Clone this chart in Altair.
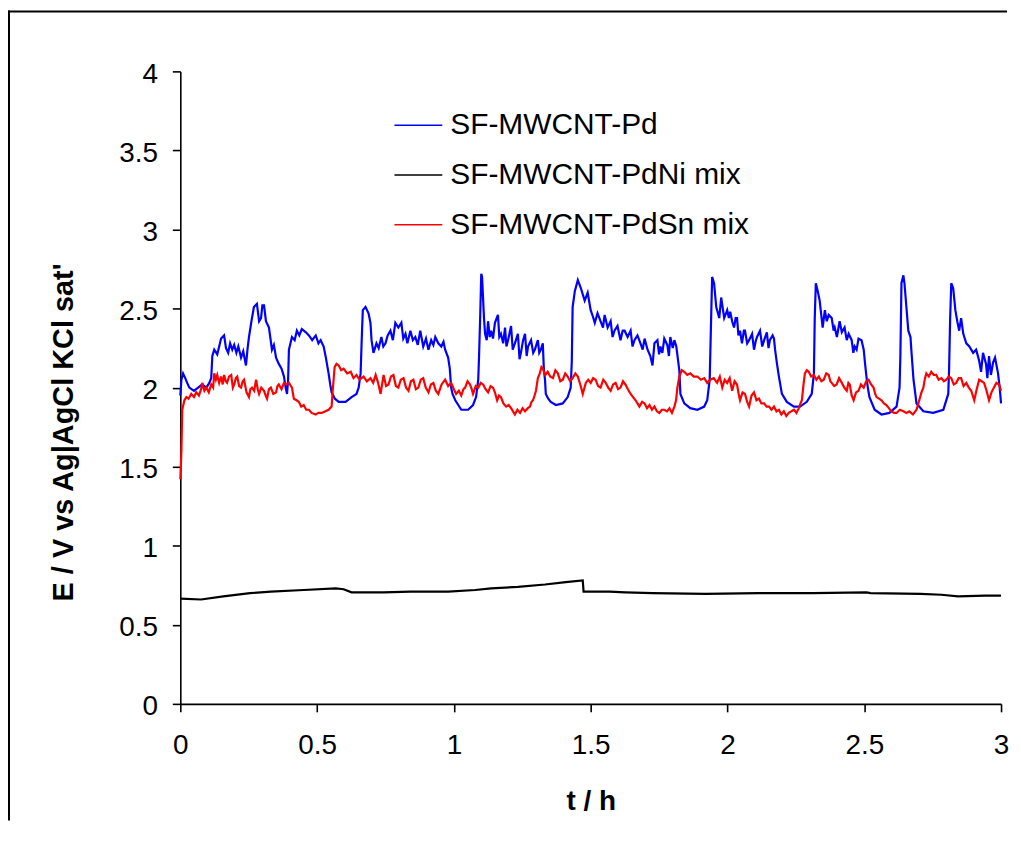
import altair as alt
import pandas as pd

SERIES = ["SF-MWCNT-Pd", "SF-MWCNT-PdNi mix", "SF-MWCNT-PdSn mix"]
COLORS = ["#0000FF", "#000000", "#FF0000"]

X_TICKS = [0, 0.5, 1, 1.5, 2, 2.5, 3]
Y_TICKS = [0, 0.5, 1, 1.5, 2, 2.5, 3, 3.5, 4]

# (t / h, E / V)
PD_POINTS = [
    (0.000, 1.95), (0.004, 2.05), (0.010, 2.09), (0.018, 2.06), (0.025, 2.03), (0.033, 2.00),
    (0.050, 1.98), (0.065, 2.00), (0.080, 2.02), (0.095, 2.00), (0.106, 2.03), (0.113, 2.06),
    (0.117, 2.20), (0.124, 2.24), (0.135, 2.21), (0.149, 2.31), (0.160, 2.33), (0.167, 2.25),
    (0.175, 2.22), (0.182, 2.28), (0.190, 2.24), (0.197, 2.27), (0.205, 2.22), (0.212, 2.26),
    (0.222, 2.19), (0.230, 2.23), (0.240, 2.14), (0.246, 2.25), (0.251, 2.32), (0.260, 2.42),
    (0.269, 2.51), (0.280, 2.53), (0.288, 2.42), (0.295, 2.44), (0.300, 2.52), (0.306, 2.52),
    (0.313, 2.42), (0.324, 2.38), (0.335, 2.24), (0.342, 2.27), (0.350, 2.19), (0.360, 2.15),
    (0.370, 2.12), (0.379, 2.07), (0.385, 2.00), (0.390, 1.96), (0.394, 2.05), (0.397, 2.24),
    (0.408, 2.32), (0.418, 2.30), (0.426, 2.36), (0.435, 2.33), (0.444, 2.37), (0.459, 2.35),
    (0.470, 2.33), (0.482, 2.30), (0.495, 2.33), (0.505, 2.28), (0.513, 2.30), (0.524, 2.26),
    (0.532, 2.19), (0.542, 2.09), (0.548, 2.02), (0.553, 1.97), (0.565, 1.93), (0.579, 1.91),
    (0.604, 1.91), (0.626, 1.94), (0.644, 1.96), (0.652, 2.00), (0.659, 2.09), (0.663, 2.30),
    (0.667, 2.49), (0.677, 2.51), (0.688, 2.47), (0.695, 2.41), (0.699, 2.30), (0.706, 2.22),
    (0.717, 2.28), (0.725, 2.25), (0.735, 2.32), (0.742, 2.26), (0.750, 2.28), (0.758, 2.33),
    (0.768, 2.36), (0.777, 2.30), (0.786, 2.41), (0.797, 2.38), (0.808, 2.41), (0.815, 2.31),
    (0.823, 2.34), (0.830, 2.28), (0.841, 2.36), (0.850, 2.30), (0.859, 2.32), (0.868, 2.27),
    (0.877, 2.36), (0.888, 2.26), (0.898, 2.31), (0.907, 2.24), (0.917, 2.30), (0.925, 2.27),
    (0.932, 2.32), (0.943, 2.28), (0.954, 2.26), (0.962, 2.29), (0.968, 2.24), (0.979, 2.19),
    (0.985, 2.12), (0.990, 2.00), (0.995, 1.96), (1.005, 1.92), (1.027, 1.86), (1.052, 1.86),
    (1.070, 1.89), (1.081, 1.94), (1.089, 2.05), (1.092, 2.20), (1.096, 2.44), (1.100, 2.72),
    (1.103, 2.70), (1.110, 2.44), (1.114, 2.34), (1.120, 2.30), (1.125, 2.42), (1.131, 2.32),
    (1.136, 2.36), (1.143, 2.31), (1.150, 2.41), (1.161, 2.46), (1.166, 2.32), (1.172, 2.34),
    (1.180, 2.28), (1.187, 2.38), (1.192, 2.26), (1.198, 2.30), (1.209, 2.39), (1.215, 2.24),
    (1.223, 2.28), (1.234, 2.34), (1.240, 2.18), (1.245, 2.22), (1.253, 2.30), (1.260, 2.34),
    (1.266, 2.20), (1.271, 2.26), (1.282, 2.30), (1.290, 2.22), (1.296, 2.24), (1.307, 2.30),
    (1.312, 2.22), (1.318, 2.24), (1.325, 2.28), (1.329, 2.11), (1.333, 2.05), (1.336, 1.96),
    (1.345, 1.93), (1.354, 1.91), (1.373, 1.89), (1.398, 1.90), (1.416, 1.94), (1.427, 2.00),
    (1.431, 2.17), (1.434, 2.51), (1.442, 2.61), (1.453, 2.68), (1.464, 2.63), (1.478, 2.55),
    (1.489, 2.60), (1.500, 2.49), (1.508, 2.45), (1.515, 2.41), (1.525, 2.47), (1.536, 2.42),
    (1.545, 2.38), (1.551, 2.46), (1.562, 2.38), (1.573, 2.42), (1.580, 2.32), (1.587, 2.36),
    (1.598, 2.39), (1.609, 2.30), (1.617, 2.36), (1.624, 2.36), (1.635, 2.32), (1.646, 2.36),
    (1.653, 2.26), (1.660, 2.30), (1.671, 2.33), (1.682, 2.28), (1.690, 2.24), (1.697, 2.31),
    (1.708, 2.24), (1.718, 2.20), (1.726, 2.14), (1.733, 2.28), (1.744, 2.30), (1.750, 2.21),
    (1.755, 2.26), (1.762, 2.22), (1.769, 2.31), (1.780, 2.27), (1.786, 2.20), (1.791, 2.32),
    (1.800, 2.25), (1.806, 2.30), (1.813, 2.26), (1.824, 2.11), (1.828, 1.96), (1.842, 1.90),
    (1.864, 1.87), (1.890, 1.86), (1.915, 1.88), (1.926, 1.92), (1.935, 2.05), (1.941, 2.49),
    (1.944, 2.70), (1.951, 2.66), (1.959, 2.51), (1.970, 2.44), (1.977, 2.57), (1.988, 2.44),
    (1.999, 2.49), (2.005, 2.44), (2.010, 2.48), (2.017, 2.42), (2.024, 2.38), (2.030, 2.44),
    (2.035, 2.44), (2.040, 2.33), (2.046, 2.36), (2.053, 2.28), (2.060, 2.36), (2.064, 2.36),
    (2.072, 2.28), (2.079, 2.30), (2.090, 2.34), (2.097, 2.24), (2.104, 2.30), (2.108, 2.32),
    (2.119, 2.36), (2.127, 2.26), (2.134, 2.30), (2.144, 2.35), (2.150, 2.25), (2.155, 2.30),
    (2.165, 2.33), (2.170, 2.31), (2.174, 2.24), (2.181, 2.15), (2.188, 2.07), (2.199, 1.96),
    (2.217, 1.91), (2.243, 1.88), (2.265, 1.88), (2.290, 1.91), (2.308, 1.96), (2.316, 2.09),
    (2.319, 2.44), (2.323, 2.66), (2.330, 2.61), (2.337, 2.55), (2.348, 2.38), (2.356, 2.49),
    (2.363, 2.42), (2.370, 2.46), (2.381, 2.44), (2.388, 2.36), (2.392, 2.38), (2.400, 2.32),
    (2.410, 2.42), (2.418, 2.35), (2.428, 2.38), (2.436, 2.30), (2.443, 2.34), (2.454, 2.30),
    (2.460, 2.22), (2.465, 2.26), (2.472, 2.24), (2.479, 2.31), (2.490, 2.30), (2.498, 2.24),
    (2.503, 2.15), (2.508, 2.07), (2.513, 2.00), (2.519, 1.94), (2.538, 1.86), (2.563, 1.83),
    (2.592, 1.84), (2.618, 1.88), (2.629, 2.00), (2.632, 2.20), (2.636, 2.66), (2.643, 2.71),
    (2.647, 2.66), (2.654, 2.51), (2.661, 2.36), (2.669, 2.32), (2.672, 2.24), (2.680, 2.05),
    (2.691, 1.90), (2.716, 1.85), (2.752, 1.84), (2.789, 1.86), (2.807, 1.96), (2.810, 2.11),
    (2.814, 2.44), (2.818, 2.66), (2.825, 2.63), (2.833, 2.49), (2.840, 2.42), (2.847, 2.36),
    (2.854, 2.44), (2.862, 2.34), (2.873, 2.28), (2.884, 2.26), (2.898, 2.22), (2.909, 2.24),
    (2.920, 2.17), (2.927, 2.10), (2.934, 2.22), (2.945, 2.15), (2.950, 2.06), (2.956, 2.20),
    (2.963, 2.08), (2.971, 2.16), (2.978, 2.19), (2.989, 2.09), (2.995, 2.00), (3.000, 1.90),
]

PDNI_POINTS = [
    (0.000, 0.666), (0.076, 0.66), (0.157, 0.68), (0.255, 0.70), (0.331, 0.71),
    (0.451, 0.72), (0.568, 0.73), (0.597, 0.725), (0.626, 0.705), (0.743, 0.705), (0.841, 0.71),
    (0.979, 0.71), (1.078, 0.72), (1.136, 0.73), (1.234, 0.74), (1.333, 0.755), (1.409, 0.77),
    (1.471, 0.78), (1.474, 0.71), (1.569, 0.71), (1.627, 0.705), (1.726, 0.70), (1.919, 0.695),
    (2.115, 0.70), (2.312, 0.70), (2.508, 0.705), (2.523, 0.70), (2.705, 0.695), (2.782, 0.69),
    (2.843, 0.68), (2.942, 0.685), (3.000, 0.685),
]

PDSN_POINTS = [
    (0.000, 1.42), (0.004, 1.60), (0.007, 1.86), (0.015, 1.92), (0.022, 1.94), (0.030, 1.93),
    (0.040, 1.96), (0.050, 1.94), (0.058, 1.97), (0.068, 1.95), (0.076, 1.99), (0.080, 2.03),
    (0.088, 1.98), (0.095, 2.00), (0.104, 1.97), (0.113, 2.02), (0.120, 2.00), (0.124, 2.09),
    (0.130, 2.05), (0.135, 2.08), (0.142, 2.03), (0.149, 2.07), (0.155, 2.02), (0.160, 2.08),
    (0.166, 2.04), (0.171, 2.03), (0.178, 2.07), (0.186, 2.08), (0.192, 2.00), (0.197, 2.02),
    (0.203, 2.06), (0.208, 2.07), (0.215, 2.01), (0.222, 2.00), (0.228, 2.04), (0.233, 2.05),
    (0.242, 1.97), (0.251, 1.94), (0.256, 1.99), (0.262, 2.00), (0.270, 1.98), (0.277, 2.05),
    (0.283, 1.99), (0.288, 1.96), (0.296, 2.00), (0.306, 1.98), (0.312, 1.95), (0.317, 1.93),
    (0.324, 1.99), (0.331, 2.00), (0.340, 1.96), (0.350, 1.97), (0.355, 2.01), (0.360, 2.02),
    (0.370, 1.99), (0.379, 2.03), (0.388, 2.02), (0.397, 2.03), (0.408, 2.00), (0.415, 1.93),
    (0.425, 1.92), (0.433, 1.91), (0.442, 1.88), (0.451, 1.89), (0.460, 1.86), (0.470, 1.86),
    (0.480, 1.84), (0.495, 1.83), (0.505, 1.84), (0.517, 1.84), (0.530, 1.85), (0.542, 1.86),
    (0.553, 1.88), (0.557, 1.98), (0.564, 2.13), (0.571, 2.15), (0.579, 2.14), (0.588, 2.11),
    (0.597, 2.12), (0.610, 2.09), (0.623, 2.10), (0.633, 2.06), (0.644, 2.08), (0.655, 2.05),
    (0.670, 2.07), (0.682, 2.04), (0.695, 2.06), (0.705, 2.03), (0.714, 2.08), (0.723, 2.03),
    (0.732, 1.96), (0.743, 2.08), (0.752, 2.01), (0.761, 2.02), (0.770, 2.07), (0.779, 2.08),
    (0.788, 2.01), (0.797, 2.00), (0.806, 2.05), (0.816, 2.06), (0.825, 2.00), (0.834, 1.98),
    (0.843, 2.04), (0.852, 2.05), (0.861, 1.99), (0.870, 2.00), (0.879, 2.05), (0.888, 2.06),
    (0.897, 2.00), (0.907, 1.97), (0.916, 2.02), (0.925, 2.03), (0.934, 1.98), (0.943, 1.96),
    (0.955, 2.02), (0.968, 2.05), (0.979, 2.01), (0.990, 2.03), (1.000, 1.99), (1.008, 1.96),
    (1.018, 1.98), (1.027, 1.95), (1.035, 1.99), (1.041, 2.00), (1.050, 2.04), (1.059, 2.02),
    (1.065, 1.99), (1.070, 1.96), (1.080, 2.01), (1.089, 2.00), (1.098, 2.03), (1.107, 2.02),
    (1.116, 1.99), (1.125, 1.97), (1.134, 2.01), (1.143, 2.00), (1.150, 1.97), (1.158, 1.92),
    (1.165, 1.95), (1.172, 1.94), (1.181, 1.90), (1.191, 1.88), (1.200, 1.89), (1.209, 1.87),
    (1.216, 1.85), (1.223, 1.83), (1.232, 1.86), (1.242, 1.84), (1.251, 1.87), (1.260, 1.85),
    (1.270, 1.87), (1.278, 1.88), (1.284, 1.91), (1.289, 1.92), (1.295, 1.95), (1.300, 1.98),
    (1.307, 2.06), (1.314, 2.09), (1.320, 2.13), (1.325, 2.12), (1.334, 2.08), (1.343, 2.10),
    (1.352, 2.07), (1.362, 2.06), (1.371, 2.11), (1.380, 2.09), (1.389, 2.04), (1.398, 2.05),
    (1.407, 2.09), (1.416, 2.07), (1.425, 2.04), (1.434, 2.06), (1.444, 2.09), (1.453, 2.07),
    (1.462, 2.02), (1.471, 1.96), (1.482, 2.03), (1.491, 2.05), (1.500, 2.03), (1.509, 2.06),
    (1.518, 2.05), (1.527, 2.01), (1.536, 2.00), (1.546, 2.05), (1.555, 2.03), (1.564, 2.00),
    (1.573, 1.98), (1.582, 2.02), (1.591, 2.03), (1.600, 1.99), (1.609, 2.00), (1.618, 2.04),
    (1.627, 2.02), (1.636, 1.99), (1.646, 1.96), (1.655, 1.94), (1.664, 1.92), (1.671, 1.90),
    (1.678, 1.88), (1.688, 1.91), (1.697, 1.90), (1.706, 1.87), (1.715, 1.89), (1.724, 1.86),
    (1.733, 1.88), (1.742, 1.85), (1.751, 1.84), (1.760, 1.86), (1.769, 1.86), (1.779, 1.85),
    (1.788, 1.87), (1.797, 1.84), (1.806, 1.88), (1.812, 1.92), (1.817, 2.00), (1.824, 2.07),
    (1.833, 2.11), (1.842, 2.10), (1.853, 2.08), (1.864, 2.09), (1.877, 2.07), (1.890, 2.07),
    (1.903, 2.05), (1.915, 2.06), (1.926, 2.03), (1.937, 2.05), (1.950, 2.06), (1.962, 2.03),
    (1.972, 2.07), (1.981, 2.00), (1.990, 2.05), (1.999, 2.03), (2.008, 2.06), (2.017, 1.98),
    (2.026, 2.04), (2.035, 2.02), (2.041, 1.96), (2.046, 1.92), (2.055, 1.97), (2.064, 1.96),
    (2.072, 1.91), (2.079, 1.88), (2.088, 1.95), (2.097, 1.97), (2.106, 1.92), (2.115, 1.93),
    (2.124, 1.90), (2.134, 1.90), (2.143, 1.88), (2.152, 1.88), (2.161, 1.86), (2.170, 1.88),
    (2.179, 1.85), (2.188, 1.86), (2.197, 1.83), (2.206, 1.85), (2.215, 1.82), (2.224, 1.84),
    (2.233, 1.85), (2.243, 1.86), (2.252, 1.84), (2.261, 1.87), (2.267, 1.90), (2.272, 1.92),
    (2.278, 2.02), (2.283, 2.09), (2.290, 2.11), (2.297, 2.10), (2.306, 2.07), (2.316, 2.08),
    (2.325, 2.05), (2.334, 2.07), (2.343, 2.04), (2.352, 2.05), (2.361, 2.09), (2.370, 2.08),
    (2.376, 2.04), (2.381, 2.03), (2.390, 2.01), (2.399, 2.02), (2.408, 2.06), (2.418, 2.03),
    (2.427, 2.00), (2.436, 1.98), (2.442, 2.03), (2.447, 2.02), (2.454, 1.95), (2.461, 1.92),
    (2.470, 1.97), (2.479, 1.98), (2.488, 2.02), (2.498, 2.00), (2.507, 2.04), (2.516, 2.05),
    (2.525, 2.02), (2.534, 2.00), (2.540, 1.96), (2.545, 1.94), (2.554, 1.93), (2.563, 1.92),
    (2.572, 1.90), (2.581, 1.89), (2.590, 1.87), (2.599, 1.85), (2.609, 1.84), (2.618, 1.84),
    (2.630, 1.86), (2.643, 1.85), (2.654, 1.84), (2.665, 1.85), (2.678, 1.83), (2.691, 1.86),
    (2.701, 1.92), (2.709, 1.97), (2.716, 2.00), (2.722, 2.06), (2.727, 2.09), (2.736, 2.07),
    (2.745, 2.10), (2.754, 2.08), (2.763, 2.08), (2.772, 2.05), (2.782, 2.06), (2.791, 2.04),
    (2.800, 2.05), (2.809, 2.07), (2.818, 2.06), (2.827, 2.02), (2.836, 2.03), (2.845, 2.06),
    (2.854, 2.06), (2.863, 2.01), (2.873, 2.03), (2.882, 2.00), (2.891, 1.98), (2.902, 1.92),
    (2.911, 1.99), (2.920, 2.05), (2.929, 2.04), (2.938, 2.03), (2.947, 1.98), (2.956, 1.92),
    (2.965, 1.97), (2.974, 2.00), (2.983, 2.03), (2.993, 2.02), (3.000, 1.98),
]

rows = []
for name, pts in zip(SERIES, [PD_POINTS, PDNI_POINTS, PDSN_POINTS]):
    for i, (t, e) in enumerate(pts):
        rows.append({"series": name, "t": t, "E": e, "idx": i})
df = pd.DataFrame(rows)

FONT = "Liberation Sans"

lines = alt.Chart(df).mark_line(strokeWidth=2.2).encode(
    x=alt.X(
        "t:Q",
        scale=alt.Scale(domain=[0, 3], nice=False, zero=False),
        axis=alt.Axis(
            values=X_TICKS, format="~g", title="t / h", labelFlush=False,
            labelPadding=20, titleX=412, titleY=98,
            titleBaseline="middle", titleAlign="center",
        ),
    ),
    y=alt.Y(
        "E:Q",
        scale=alt.Scale(domain=[0, 4], nice=False),
        axis=alt.Axis(
            values=Y_TICKS, format="~g", title="E / V vs Ag|AgCl KCl sat'",
            labelFlush=False,
            labelPadding=15, labelOffset=3, titleX=-117, titleY=362, titleAngle=270,
            titleBaseline="middle", titleAlign="center", titleFontSize=29,
        ),
    ),
    color=alt.Color(
        "series:N",
        scale=alt.Scale(domain=SERIES, range=COLORS),
        sort=SERIES,
        legend=alt.Legend(
            title=None, orient="none", legendX=214, legendY=29,
            symbolType="stroke", symbolSize=2304, symbolStrokeWidth=1.5,
            labelFontSize=30, labelFont=FONT, labelColor="black",
            labelLimit=600, labelOffset=7, rowPadding=10, padding=0,
        ),
    ),
    detail="series:N",
    order="idx:Q",
)

# outer frame of the figure: top and left edges as thin filled bars,
# kept well inside the drawing surface so nothing overflows the page
frame_top = alt.Chart(alt.Data(values=[{"k": 1}])).mark_rect(
    color="black", strokeWidth=0
).encode(x=alt.value(-173), x2=alt.value(830), y=alt.value(-61), y2=alt.value(-59))

frame_left = alt.Chart(alt.Data(values=[{"k": 1}])).mark_rect(
    color="black", strokeWidth=0
).encode(x=alt.value(-173), x2=alt.value(-171), y=alt.value(-61), y2=alt.value(752))

chart = alt.layer(frame_top, frame_left, lines).properties(
    width=824,
    height=635,
    padding={"left": 173, "top": 62, "right": 12, "bottom": 122},
    autosize=alt.AutoSizeParams(type="none"),
).configure_view(
    strokeWidth=0
).configure_axis(
    grid=False,
    domainColor="black", domainWidth=1.6,
    tickColor="black", tickWidth=1.6, tickSize=8,
    labelFont=FONT, labelFontSize=28, labelColor="black",
    titleFont=FONT, titleFontSize=28, titleFontWeight="bold", titleColor="black",
)

chart.save("out.html", embed_options={"renderer": "svg", "actions": False})
